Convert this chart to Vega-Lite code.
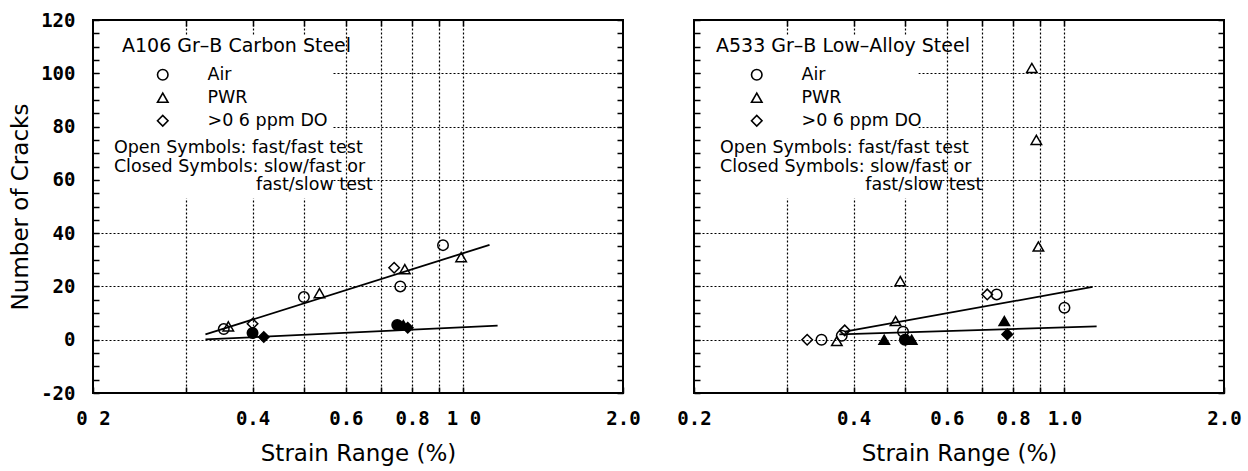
{
  "$schema": "https://vega.github.io/schema/vega-lite/v6.json",
  "background": "white",
  "padding": {"left": 8, "top": 10, "right": 5, "bottom": 0},
  "spacing": 71,
  "bounds": "flush",
  "config": {
    "font": "DejaVu Sans",
    "view": {"stroke": "black", "strokeWidth": 2},
    "axis": {
      "domain": false,
      "labelFont": "DejaVu Sans Mono",
      "labelFontWeight": "bold",
      "labelFontSize": 19,
      "labelColor": "black",
      "titleFont": "DejaVu Sans",
      "titleFontSize": 23,
      "titleFontWeight": "normal",
      "titleColor": "black",
      "tickColor": "black",
      "tickWidth": 1.5,
      "gridColor": "black",
      "gridDash": [2, 2],
      "gridWidth": 1.2
    },
    "legend": {
      "padding": 0,
      "titleFont": "DejaVu Sans",
      "titleFontSize": 19,
      "titleFontWeight": "normal",
      "titleColor": "black",
      "titlePadding": 10,
      "titleLimit": 500,
      "labelFont": "DejaVu Sans",
      "labelFontSize": 17.5,
      "labelColor": "black",
      "labelLimit": 300,
      "symbolSize": 110,
      "symbolOffset": 32,
      "labelOffset": 36,
      "rowPadding": 4,
      "symbolFillColor": "transparent",
      "symbolStrokeColor": "black",
      "symbolStrokeWidth": 1.6
    }
  },
  "datasets": {
    "pts": [
      {"panel": "A106", "medium": "Air", "test": "open", "strain": 0.353, "cracks": 4},
      {"panel": "A106", "medium": "PWR", "test": "open", "strain": 0.36, "cracks": 5},
      {"panel": "A106", "medium": ">0 6 ppm DO", "test": "open", "strain": 0.40, "cracks": 6},
      {"panel": "A106", "medium": "Air", "test": "open", "strain": 0.50, "cracks": 16},
      {"panel": "A106", "medium": "PWR", "test": "open", "strain": 0.535, "cracks": 17.5},
      {"panel": "A106", "medium": ">0 6 ppm DO", "test": "open", "strain": 0.74, "cracks": 27},
      {"panel": "A106", "medium": "PWR", "test": "open", "strain": 0.775, "cracks": 26.5},
      {"panel": "A106", "medium": "Air", "test": "open", "strain": 0.76, "cracks": 20},
      {"panel": "A106", "medium": "Air", "test": "open", "strain": 0.915, "cracks": 35.5},
      {"panel": "A106", "medium": "PWR", "test": "open", "strain": 0.99, "cracks": 31},
      {"panel": "A106", "medium": "Air", "test": "closed", "strain": 0.40, "cracks": 2.5},
      {"panel": "A106", "medium": ">0 6 ppm DO", "test": "closed", "strain": 0.42, "cracks": 1},
      {"panel": "A106", "medium": "Air", "test": "closed", "strain": 0.75, "cracks": 5.5},
      {"panel": "A106", "medium": "PWR", "test": "closed", "strain": 0.77, "cracks": 5.5},
      {"panel": "A106", "medium": ">0 6 ppm DO", "test": "closed", "strain": 0.785, "cracks": 4.5},
      {"panel": "A533", "medium": ">0 6 ppm DO", "test": "open", "strain": 0.327, "cracks": 0},
      {"panel": "A533", "medium": "Air", "test": "open", "strain": 0.348, "cracks": 0},
      {"panel": "A533", "medium": "PWR", "test": "open", "strain": 0.372, "cracks": -0.5},
      {"panel": "A533", "medium": "Air", "test": "open", "strain": 0.38, "cracks": 1.5},
      {"panel": "A533", "medium": ">0 6 ppm DO", "test": "open", "strain": 0.385, "cracks": 3.5},
      {"panel": "A533", "medium": "PWR", "test": "open", "strain": 0.48, "cracks": 7},
      {"panel": "A533", "medium": "PWR", "test": "open", "strain": 0.49, "cracks": 22},
      {"panel": "A533", "medium": "Air", "test": "open", "strain": 0.496, "cracks": 3},
      {"panel": "A533", "medium": ">0 6 ppm DO", "test": "open", "strain": 0.715, "cracks": 17},
      {"panel": "A533", "medium": "Air", "test": "open", "strain": 0.745, "cracks": 17},
      {"panel": "A533", "medium": "PWR", "test": "open", "strain": 0.868, "cracks": 102},
      {"panel": "A533", "medium": "PWR", "test": "open", "strain": 0.885, "cracks": 75},
      {"panel": "A533", "medium": "PWR", "test": "open", "strain": 0.893, "cracks": 35},
      {"panel": "A533", "medium": "Air", "test": "open", "strain": 1.0, "cracks": 12},
      {"panel": "A533", "medium": "PWR", "test": "closed", "strain": 0.457, "cracks": 0},
      {"panel": "A533", "medium": "Air", "test": "closed", "strain": 0.50, "cracks": 0},
      {"panel": "A533", "medium": "PWR", "test": "closed", "strain": 0.515, "cracks": 0},
      {"panel": "A533", "medium": "PWR", "test": "closed", "strain": 0.77, "cracks": 7},
      {"panel": "A533", "medium": ">0 6 ppm DO", "test": "closed", "strain": 0.78, "cracks": 2}
    ],
    "trend": [
      {"panel": "A106", "line": "open", "strain": 0.326, "cracks": 2.0},
      {"panel": "A106", "line": "open", "strain": 1.12, "cracks": 35.6},
      {"panel": "A106", "line": "closed", "strain": 0.326, "cracks": 0.1},
      {"panel": "A106", "line": "closed", "strain": 1.16, "cracks": 5.3},
      {"panel": "A533", "line": "open", "strain": 0.385, "cracks": 3},
      {"panel": "A533", "line": "open", "strain": 1.13, "cracks": 19.8},
      {"panel": "A533", "line": "closed", "strain": 0.376, "cracks": 2},
      {"panel": "A533", "line": "closed", "strain": 1.15, "cracks": 5}
    ],
    "notes": [
      {"panel": "A106", "strain": 0.219, "cracks": 71.8, "text": "Open Symbols: fast/fast test"},
      {"panel": "A106", "strain": 0.219, "cracks": 64.9, "text": "Closed Symbols: slow/fast or"},
      {"panel": "A106", "strain": 0.406, "cracks": 57.9, "text": "fast/slow test"},
      {"panel": "A533", "strain": 0.224, "cracks": 71.8, "text": "Open Symbols: fast/fast test"},
      {"panel": "A533", "strain": 0.224, "cracks": 64.9, "text": "Closed Symbols: slow/fast or"},
      {"panel": "A533", "strain": 0.421, "cracks": 57.9, "text": "fast/slow test"}
    ],
    "box": [
      {"panel": "A106", "x1": 0.207, "x2": 0.565, "y1": 53, "y2": 114},
      {"panel": "A533", "x1": 0.207, "x2": 0.53, "y1": 53, "y2": 114}
    ]
  },
  "resolve": {"scale": {"shape": "independent", "fill": "independent"}, "legend": {"shape": "independent"}},
  "hconcat": [
    {
      "width": 530,
      "height": 373,
      "resolve": {"axis": {"x": "independent", "y": "independent"}},
      "layer": [
        {
          "data": {"name": "box"},
          "transform": [{"filter": "datum.panel == 'A106'"}],
          "mark": {"type": "rect", "fill": "white", "strokeWidth": 0},
          "encoding": {
            "x": {"field": "x1", "type": "quantitative", "scale": {"type": "log", "domain": [0.2, 2.0], "nice": false},
              "axis": {"orient": "top", "title": null, "labels": false, "grid": false, "values": [0.3, 0.4, 0.5, 0.6, 0.7, 0.8, 0.9, 1.0], "tickSize": -6}},
            "x2": {"field": "x2"},
            "y": {"field": "y1", "type": "quantitative", "scale": {"domain": [-20, 120], "nice": false, "zero": false},
              "axis": {"orient": "right", "title": null, "labels": false, "grid": false, "values": [-20, -15, -10, -5, 0, 5, 10, 15, 20, 25, 30, 35, 40, 45, 50, 55, 60, 65, 70, 75, 80, 85, 90, 95, 100, 105, 110, 115, 120], "tickSize": -6}},
            "y2": {"field": "y2"}
          }
        },
        {
          "data": {"name": "trend"},
          "transform": [{"filter": "datum.panel == 'A106'"}],
          "mark": {"type": "line", "color": "black", "strokeWidth": 1.8},
          "encoding": {
            "x": {"field": "strain", "type": "quantitative", "axis": null},
            "y": {"field": "cracks", "type": "quantitative", "axis": null},
            "detail": {"field": "line"}
          }
        },
        {
          "data": {"name": "pts"},
          "transform": [{"filter": "datum.panel == 'A106'"}],
          "mark": {"type": "point", "filled": false, "size": 110, "stroke": "black", "strokeWidth": 1.5, "opacity": 1},
          "encoding": {
            "x": {"field": "strain", "type": "quantitative",
              "axis": {"title": "Strain Range (%)", "values": [0.2, 0.3, 0.4, 0.5, 0.6, 0.7, 0.8, 0.9, 1.0, 2.0],
                "labelExpr": "format(datum.value,'.1f') == '0.2' ? '0 2' : (format(datum.value,'.1f') == '1.0' ? '1 0' : (indexof(['0.4','0.6','0.8','2.0'], format(datum.value,'.1f')) >= 0 ? format(datum.value,'.1f') : ''))",
                "labelFlush": false, "labelOverlap": false, "grid": true,
                "gridOpacity": {"condition": {"test": "datum.value > 0.25 && datum.value < 1.5", "value": 1}, "value": 0},
                "tickSize": -6, "labelPadding": 22, "titlePadding": 14}},
            "y": {"field": "cracks", "type": "quantitative",
              "axis": {"title": "Number of Cracks", "values": [-20, -15, -10, -5, 0, 5, 10, 15, 20, 25, 30, 35, 40, 45, 50, 55, 60, 65, 70, 75, 80, 85, 90, 95, 100, 105, 110, 115, 120],
                "labelExpr": "datum.value % 20 === 0 ? '' + datum.value : ''",
                "grid": true,
                "gridOpacity": {"condition": {"test": "datum.value % 20 === 0 && datum.value >= 0 && datum.value <= 100", "value": 1}, "value": 0},
                "tickSize": -6, "labelPadding": 24, "titlePadding": 8}},
            "shape": {"field": "medium", "type": "nominal",
              "scale": {"domain": ["Air", "PWR", ">0 6 ppm DO"], "range": ["circle", "triangle-up", "diamond"]},
              "legend": {"title": "A106 Gr–B Carbon Steel", "orient": "none", "legendX": 29, "legendY": 17,
                "encode": {"symbols": {"enter": {"fill": {"value": "transparent"}, "stroke": {"value": "black"}}, "update": {"fill": {"value": "transparent"}, "stroke": {"value": "black"}, "strokeWidth": {"value": 1.6}, "opacity": {"value": 1}}}}}},
            "fill": {"field": "test", "type": "nominal", "scale": {"domain": ["open", "closed"], "range": ["transparent", "black"]}, "legend": null}
          }
        },
        {
          "data": {"name": "notes"},
          "transform": [{"filter": "datum.panel == 'A106'"}],
          "mark": {"type": "text", "align": "left", "baseline": "middle", "font": "DejaVu Sans", "fontSize": 17.5, "color": "black"},
          "encoding": {
            "x": {"field": "strain", "type": "quantitative", "axis": null},
            "y": {"field": "cracks", "type": "quantitative", "axis": null},
            "text": {"field": "text"}
          }
        }
      ]
    },
    {
      "width": 530,
      "height": 373,
      "resolve": {"axis": {"x": "independent", "y": "independent"}},
      "layer": [
        {
          "data": {"name": "box"},
          "transform": [{"filter": "datum.panel == 'A533'"}],
          "mark": {"type": "rect", "fill": "white", "strokeWidth": 0},
          "encoding": {
            "x": {"field": "x1", "type": "quantitative", "scale": {"type": "log", "domain": [0.2, 2.0], "nice": false},
              "axis": {"orient": "top", "title": null, "labels": false, "grid": false, "values": [0.3, 0.4, 0.5, 0.6, 0.7, 0.8, 0.9, 1.0], "tickSize": -6}},
            "x2": {"field": "x2"},
            "y": {"field": "y1", "type": "quantitative", "scale": {"domain": [-20, 120], "nice": false, "zero": false},
              "axis": {"orient": "right", "title": null, "labels": false, "grid": false, "values": [-20, -15, -10, -5, 0, 5, 10, 15, 20, 25, 30, 35, 40, 45, 50, 55, 60, 65, 70, 75, 80, 85, 90, 95, 100, 105, 110, 115, 120], "tickSize": -6}},
            "y2": {"field": "y2"}
          }
        },
        {
          "data": {"name": "trend"},
          "transform": [{"filter": "datum.panel == 'A533'"}],
          "mark": {"type": "line", "color": "black", "strokeWidth": 1.8},
          "encoding": {
            "x": {"field": "strain", "type": "quantitative", "axis": null},
            "y": {"field": "cracks", "type": "quantitative", "axis": null},
            "detail": {"field": "line"}
          }
        },
        {
          "data": {"name": "pts"},
          "transform": [{"filter": "datum.panel == 'A533'"}],
          "mark": {"type": "point", "filled": false, "size": 110, "stroke": "black", "strokeWidth": 1.5, "opacity": 1},
          "encoding": {
            "x": {"field": "strain", "type": "quantitative",
              "axis": {"title": "Strain Range (%)", "values": [0.2, 0.3, 0.4, 0.5, 0.6, 0.7, 0.8, 0.9, 1.0, 2.0],
                "labelExpr": "indexof(['0.2','0.4','0.6','0.8','1.0','2.0'], format(datum.value,'.1f')) >= 0 ? format(datum.value,'.1f') : ''",
                "labelFlush": false, "labelOverlap": false, "grid": true,
                "gridOpacity": {"condition": {"test": "datum.value > 0.25 && datum.value < 1.5", "value": 1}, "value": 0},
                "tickSize": -6, "labelPadding": 22, "titlePadding": 14}},
            "y": {"field": "cracks", "type": "quantitative",
              "axis": {"title": null, "labels": false, "values": [-20, -15, -10, -5, 0, 5, 10, 15, 20, 25, 30, 35, 40, 45, 50, 55, 60, 65, 70, 75, 80, 85, 90, 95, 100, 105, 110, 115, 120],
                "grid": true,
                "gridOpacity": {"condition": {"test": "datum.value % 20 === 0 && datum.value >= 0 && datum.value <= 100", "value": 1}, "value": 0},
                "tickSize": -6}},
            "shape": {"field": "medium", "type": "nominal",
              "scale": {"domain": ["Air", "PWR", ">0 6 ppm DO"], "range": ["circle", "triangle-up", "diamond"]},
              "legend": {"title": "A533 Gr–B Low–Alloy Steel", "orient": "none", "legendX": 22, "legendY": 17,
                "encode": {"symbols": {"enter": {"fill": {"value": "transparent"}, "stroke": {"value": "black"}}, "update": {"fill": {"value": "transparent"}, "stroke": {"value": "black"}, "strokeWidth": {"value": 1.6}, "opacity": {"value": 1}}}}}},
            "fill": {"field": "test", "type": "nominal", "scale": {"domain": ["open", "closed"], "range": ["transparent", "black"]}, "legend": null}
          }
        },
        {
          "data": {"name": "notes"},
          "transform": [{"filter": "datum.panel == 'A533'"}],
          "mark": {"type": "text", "align": "left", "baseline": "middle", "font": "DejaVu Sans", "fontSize": 17.5, "color": "black"},
          "encoding": {
            "x": {"field": "strain", "type": "quantitative", "axis": null},
            "y": {"field": "cracks", "type": "quantitative", "axis": null},
            "text": {"field": "text"}
          }
        }
      ]
    }
  ]
}
